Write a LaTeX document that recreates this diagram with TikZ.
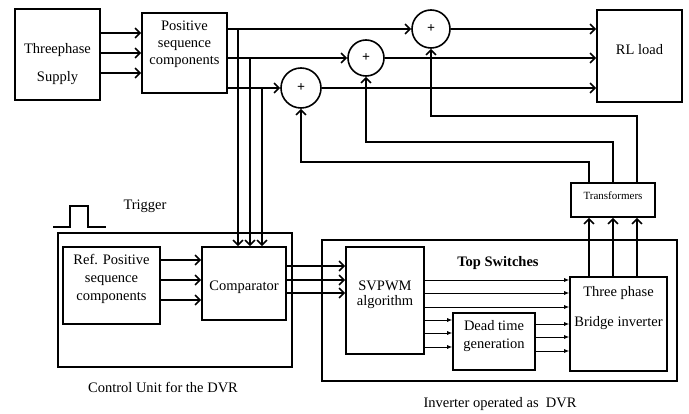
\documentclass[tikz,border=0pt]{standalone}
\usepackage{fontspec}
\setmainfont{Liberation Serif}
\usetikzlibrary{arrows.meta, calc}

\begin{document}
\begin{tikzpicture}[x=1pt, y=-1pt,
    % block and text styles
    box/.style={draw=black, line width=1.6pt, inner sep=0pt},
    txt/.style={font=\fontsize{14.5}{17}\selectfont, align=center, inner sep=0pt},
    smalltxt/.style={font=\fontsize{11}{12}\selectfont, inner sep=0pt},
    sumnode/.style={circle, draw=black, line width=1.6pt, minimum size=#1, inner sep=0pt,
                    font=\fontsize{14}{14}\selectfont\bfseries},
    arr/.style={-{Straight Barb[length=5pt,width=10pt]}, line width=1.6pt},
    sig/.style={-{Latex[length=5pt,width=4pt]}, line width=0.8pt},
    wire/.style={line width=1.6pt, line join=miter}
]
\useasboundingbox (0,0) rectangle (689,414);

% ===== SOURCE, SEQUENCE BLOCK, LOAD =====
\node[box, minimum width=85, minimum height=91] (sup) at (57.5,54.5) {};
\node[txt] (suptxt) at (57.5,64.5) {Threephase\\[11pt]Supply};

\node[box, minimum width=85, minimum height=80] (psc) at (184.5,53) {};
\node[txt] (psctxt) at (184.5,44.5) {Positive\\[0pt]sequence\\[0pt]components};

\node[box, minimum width=85, minimum height=92] (rl) at (639.5,56) {};
\node[txt] (rltxt) at (639.5,50) {RL load};

% summing junctions
\node[sumnode=40] (c1) at (301,88) {+};
\node[sumnode=36] (c2) at (366,58) {+};
\node[sumnode=38] (c3) at (431,29) {+};

\foreach \y in {33,53,73}
    \draw[arr] (sup.east |- 0,\y) -- (psc.west |- 0,\y);

\draw[arr] (psc.east |- c3) -- (c3);
\draw[arr] (psc.east |- c2) -- (c2);
\draw[arr] (psc.east |- c1) -- (c1);

\draw[arr] (c3) -- (c3 -| rl.west);
\draw[arr] (c2) -- (c2 -| rl.west);
\draw[arr] (c1) -- (c1 -| rl.west);

% ===== CONTROL UNIT =====
\node[box, minimum width=234, minimum height=134] (cu) at (175,300) {};
\node[txt] (cutxt) at (163,388) {Control Unit for the DVR};

\node[box, minimum width=97, minimum height=77] (ref) at (111.5,285.5) {};
\node[txt] (reftxt) at (111.5,278.5) {Ref. Positive\\[1pt]sequence\\[1pt]components};

\node[box, minimum width=84, minimum height=73] (cmp) at (244,283.5) {};
\node[txt] (cmptxt) at (244,287) {Comparator};

\foreach \y in {260,280,300}
    \draw[arr] (ref.east |- 0,\y) -- (cmp.west |- 0,\y);

% taps from the sequence outputs down to the comparator
\coordinate (v1) at (238,29);
\coordinate (v2) at (250,58);
\coordinate (v3) at (262,88);
\foreach \v in {v1,v2,v3}
    \draw[arr] (\v) -- (\v |- cmp.north);

% trigger pulse
\draw[wire] (53,227) -- (70,227) -- (70,206) -- (88,206) -- (88,227) -- (106,227);
\node[txt] (trig) at (145,206) {Trigger};

% ===== INVERTER =====
\node[box, minimum width=355, minimum height=141] (inv) at (499.5,310.5) {};
\node[txt] (invtxt) at (500,404) {Inverter operated as \ DVR};

\node[box, minimum width=78, minimum height=107] (svp) at (385,300.5) {};
\node[txt] (svptxt) at (385,295) {SVPWM\\[-2pt]algorithm};

\node[box, minimum width=82, minimum height=57] (ded) at (494,341.5) {};
\node[txt] (dedtxt) at (494,336.5) {Dead time\\[1pt]generation};

\node[box, minimum width=97, minimum height=94] (brg) at (618.5,324) {};
\node[txt] (brgtxt) at (618.5,308.5) {Three phase\\[13pt]Bridge inverter};

\node[txt, font=\fontsize{14.5}{17}\selectfont\bfseries] (top) at (498,263) {Top Switches};

\foreach \y in {266,280,293}
    \draw[arr] (cmp.east |- 0,\y) -- (svp.west |- 0,\y);

\foreach \y in {280,293,307}
    \draw[sig] (svp.east |- 0,\y) -- (brg.west |- 0,\y);
\foreach \y in {320,333,347}
    \draw[sig] (svp.east |- 0,\y) -- (ded.west |- 0,\y);
\foreach \y in {324,337,351}
    \draw[sig] (ded.east |- 0,\y) -- (brg.west |- 0,\y);

% ===== TRANSFORMERS AND FEEDBACK =====
\node[box, minimum width=84, minimum height=34] (trf) at (613,200) {};
\node[smalltxt] (trftxt) at (613,196) {Transformers};

\foreach \dx in {-24,0,24}
    \draw[arr] ([xshift=\dx pt]trf.south |- brg.north) -- ([xshift=\dx pt]trf.south);

\draw[arr] ([xshift=24pt]trf.north) -- ++(0,-66) -| (c3.south);
\draw[arr] (trf.north) -- ++(0,-40) -| (c2.south);
\draw[arr] ([xshift=-24pt]trf.north) -- ++(0,-20) -| (c1.south);

\end{tikzpicture}
\end{document}
